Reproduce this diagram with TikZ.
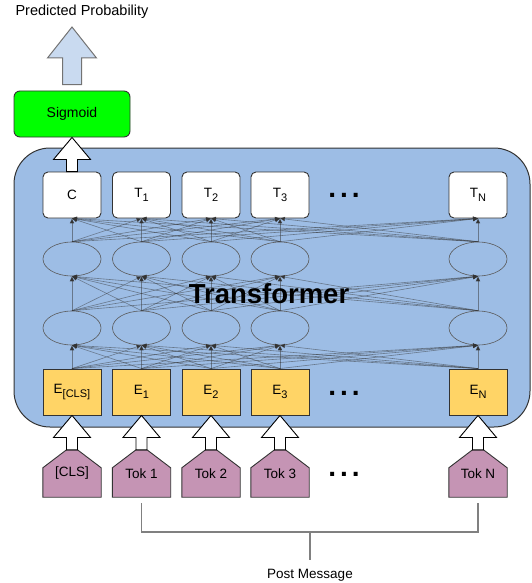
\documentclass[tikz,border=0pt]{standalone}
\usepackage{fontspec}
\setmainfont{Liberation Sans}
\usetikzlibrary{arrows.meta,calc,shapes.geometric}
\definecolor{bgblue}{HTML}{9DBDE5}
\definecolor{embyellow}{HTML}{FFD466}
\definecolor{tokpink}{HTML}{C594B4}
\definecolor{sigreen}{HTML}{00FF00}
\definecolor{outblue}{HTML}{C9DAF0}
\definecolor{edge}{HTML}{333333}
\newcommand\mysub[1]{\raisebox{-0.5ex}{\fontsize{11}{12}\selectfont #1}}
\newcommand\blockarrow[7]{% style, bottom, tip, headlen, headhalf, shafthalf, unused
  \draw[#1] let \p1=(#2), \p2=(#3) in
    (\x2,\y2) -- (\x2+#5,\y2-#4) -- (\x2+#6,\y2-#4) -- (\x2+#6,\y1)
    -- (\x2-#6,\y1) -- (\x2-#6,\y2-#4) -- (\x2-#5,\y2-#4) -- cycle;}
\tikzset{
  txt/.style={font=\fontsize{13.5}{15}\selectfont},
  topbox/.style={txt,draw=edge,line width=0.9pt,fill=white,rounded corners=5pt,minimum width=58pt,minimum height=46pt,inner sep=0pt},
  embbox/.style={txt,draw=edge,line width=0.9pt,fill=embyellow,minimum width=58pt,minimum height=46pt,inner sep=0pt},
  layer/.style={ellipse,draw=black!65,line width=0.6pt,minimum width=58pt,minimum height=34pt,inner sep=0pt},
  tok/.style={txt,minimum width=58pt,minimum height=47pt,inner sep=0pt},
  tokshape/.style={draw=edge,line width=0.9pt,fill=tokpink},
  conn/.style={draw=black!80,draw opacity=0.5,line width=0.6pt,-{Triangle[length=5pt,width=4.5pt]}},
  hollow/.style={draw=black,line width=0.9pt,fill=white},
  dots/.style={font=\fontsize{28}{30}\bfseries\selectfont,inner sep=0pt,anchor=base},
  bracket/.style={draw=black!50,line width=1.3pt},
}
\begin{document}
\begin{tikzpicture}[x=1pt,y=-1pt]
\useasboundingbox (0,0) rectangle (532,583);
% background
\draw[fill=bgblue,draw=edge,line width=1pt,rounded corners=36pt] (14,148) rectangle (530,427);
% top texts
\node[font=\fontsize{14.5}{16}\selectfont] (pp) at (82,12) {Predicted Probability};
\coordinate (pptip) at (72,27);
\node[txt,font=\fontsize{14}{16}\selectfont,draw=edge,line width=0.9pt,fill=sigreen,rounded corners=6pt,minimum width=116pt,minimum height=46pt,inner sep=0pt] (sig) at (72,114) {Sigmoid};
% columns
\foreach \i/\x in {0/72,1/141.5,2/211,3/280,4/478}{
  \node[layer] (a\i) at (\x,328) {};
  \node[layer] (b\i) at (\x,259) {};
}
\node[topbox] (t0) at (72,195) {C};
\node[topbox] (t1) at (141.5,195) {T\mysub{1}};
\node[topbox] (t2) at (211,195) {T\mysub{2}};
\node[topbox] (t3) at (280,195) {T\mysub{3}};
\node[topbox] (t4) at (478,195) {T\mysub{N}};
\node[embbox] (e0) at (72,392) {E\mysub{[CLS]}};
\node[embbox] (e1) at (141.5,392) {E\mysub{1}};
\node[embbox] (e2) at (211,392) {E\mysub{2}};
\node[embbox] (e3) at (280,392) {E\mysub{3}};
\node[embbox] (e4) at (478,392) {E\mysub{N}};
% connectors
\foreach \i in {0,...,4}{
  \foreach \j in {0,...,4}{
    \draw[conn] (e\i.north) -- (a\j.south);
    \draw[conn] (a\i.north) -- (b\j.south);
    \draw[conn] (b\i.north) -- (t\j.south);
  }
}
\node[font=\fontsize{27.5}{30}\bfseries\selectfont] (tr) at (269,294) {Transformer};
% tokens
\node[tok] (k0) at (72,473.5) {};
\node[tok] (k1) at (141.5,473.5) {};
\node[tok] (k2) at (211,473.5) {};
\node[tok] (k3) at (280,473.5) {};
\node[tok] (k4) at (478,473.5) {};
\foreach \i in {0,...,4}{
  \draw[tokshape] (k\i.south west) -- (k\i.south east) -- ($(k\i.north east)+(0,18)$)
    -- ($(k\i.north)+(5.5,0)$) -- ($(k\i.north)+(-5.5,0)$) -- ($(k\i.north west)+(0,18)$) -- cycle;
  \blockarrow{hollow}{k\i.north}{e\i.south}{22pt}{18.5pt}{5.5pt}{}
}
\node[txt] at (k0) {[CLS]};
\node[txt] at (k1) {Tok 1};
\node[txt] at (k2) {Tok 2};
\node[txt] at (k3) {Tok 3};
\node[txt] at (k4) {Tok N};
% arrows to sigmoid and output
\blockarrow{hollow}{t0.north}{sig.south}{22pt}{18.5pt}{5.5pt}{}
\coordinate (ppbase) at ($(sig.north)+(0,-6)$);
\blockarrow{draw=black!55,line width=1pt,fill=outblue}{ppbase}{pptip}{31pt}{24.5pt}{9.5pt}{}
% dots
\node[dots] (d1) at (344,197.5) {.\kern4pt.\kern4pt.};
\node[dots] (d2) at (344,395.5) {.\kern4pt.\kern4pt.};
\node[dots] (d3) at (344,476.5) {.\kern4pt.\kern4pt.};
% bracket
\node[txt] (pm) at (310,575) {Post Message};
\coordinate (bl) at ($(k1.south)+(0,6)$);
\coordinate (br) at ($(k4.south)+(0,6)$);
\coordinate (bm) at (310,532);
\draw[bracket] (bl) -- (bl |- bm) -- (br |- bm) -- (br);
\draw[bracket] (bm) -- ($(pm.north)+(0,-5)$);
\end{tikzpicture}
\end{document}
